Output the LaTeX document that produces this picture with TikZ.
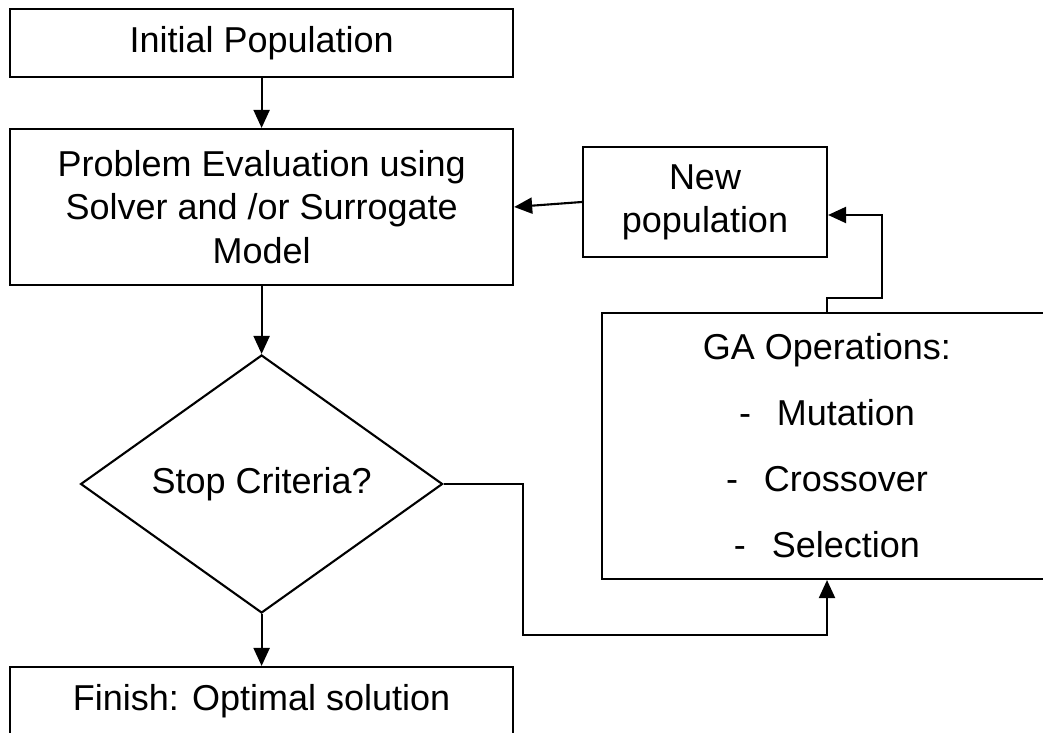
\documentclass[tikz,border=0pt]{standalone}
\usepackage{fontspec}
\setmainfont{Liberation Sans}
\usetikzlibrary{shapes.geometric,arrows.meta}

\tikzset{
  box/.style={draw,line width=1.5pt,align=center,inner sep=0pt},
  flow/.style={line width=1.5pt,-{Triangle[length=0.45cm,width=0.4cm]}},
}

\begin{document}
\begin{tikzpicture}[x=1cm,y=1cm,font=\fontsize{25.6}{30.7}\selectfont]
\useasboundingbox (0,0) rectangle (26.075,18.3);
\clip (0,0) rectangle (26.075,18.3);
% left column
\node[box,minimum width=12.575cm,minimum height=1.7cm] (init) at (6.54,17.225) {Initial Population};
\node[box,minimum width=12.575cm,minimum height=3.9cm] (eval) at (6.54,13.125) {Problem Evaluation using\\Solver and /or Surrogate\\Model};
\node[box,shape=diamond,minimum width=9.05cm,minimum height=6.45cm] (crit) at (6.54,6.2) {Stop Criteria?};
\node[box,minimum width=12.575cm,minimum height=1.7cm] (finish) at (6.54,0.775) {Finish: Optimal solution};
% right column
\node[box,minimum width=6.1cm,minimum height=2.75cm] (newpop) at (17.625,13.25) {New\\population};
\node[box,minimum width=11.25cm,minimum height=6.65cm] (ga) at (20.675,7.15) {GA Operations:\\[16.3pt]-\hspace{0.65cm}Mutation\\[16.3pt]-\hspace{0.65cm}Crossover\\[16.3pt]-\hspace{0.65cm}Selection};
\coordinate (turn) at (13.075,2.425);
\coordinate (jog) at (22.05,10.85);
% connectors
\draw[flow] (init) -- (eval);
\draw[flow] (eval) -- (crit);
\draw[flow] (crit) -- (finish);
\draw[flow] (crit.east) -| (turn) -| (ga.south);
\draw[flow] (ga.north) |- (jog) |- ([yshift=-0.325cm]newpop.east);
\draw[flow] (newpop.west) -- (eval.east);
\end{tikzpicture}
\end{document}
